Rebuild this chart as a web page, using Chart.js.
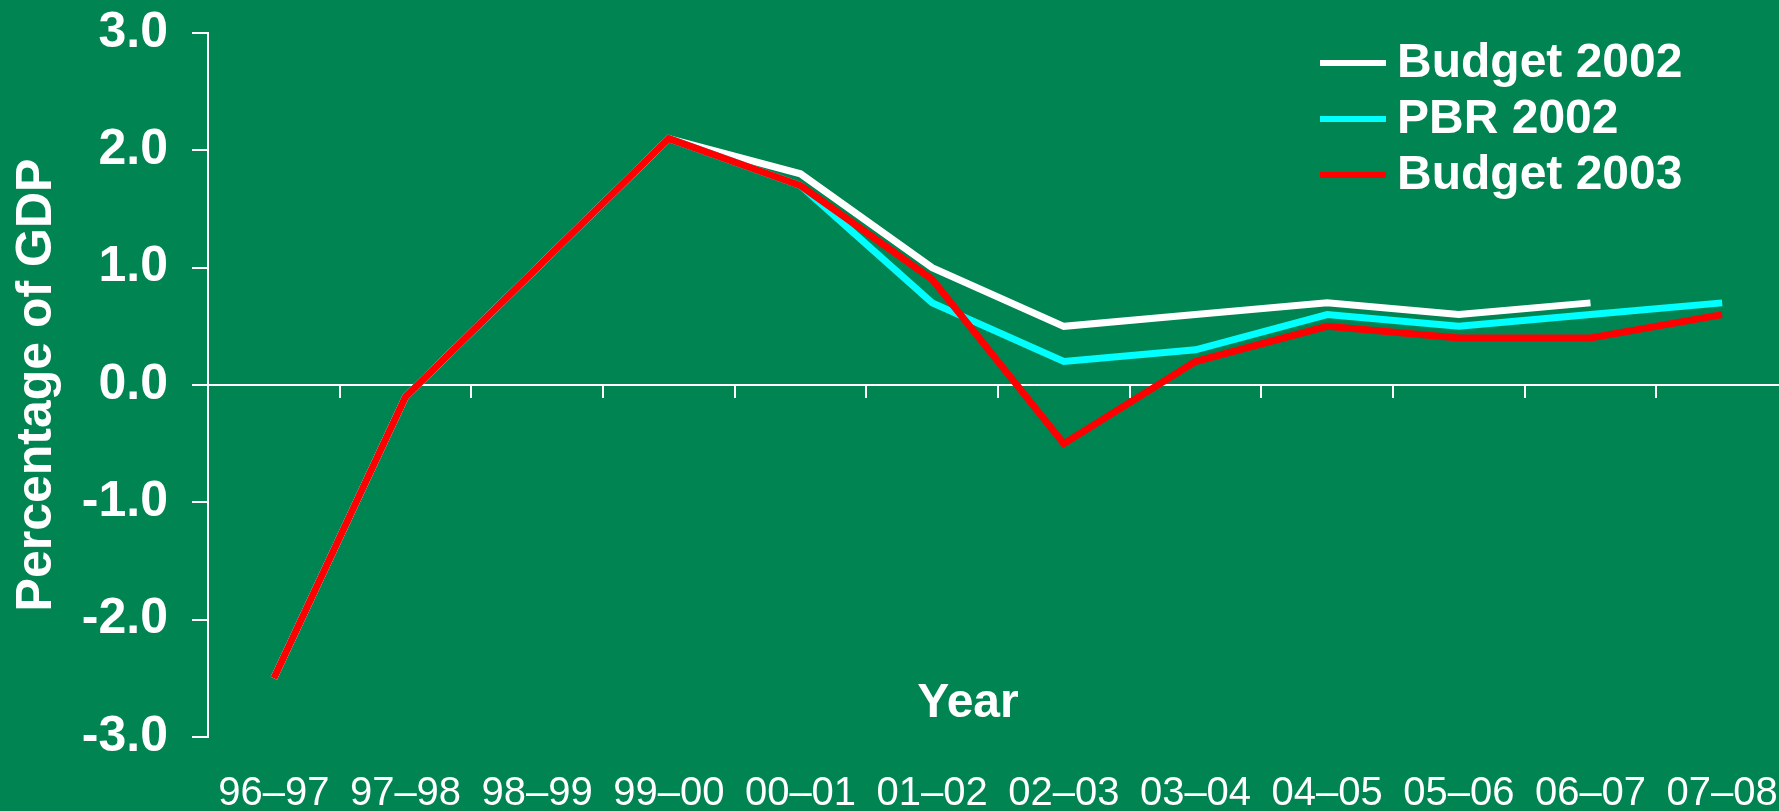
<!DOCTYPE html>
<html>
<head>
<meta charset="utf-8">
<script src="https://cdn.jsdelivr.net/npm/chart.js@4.4.1/dist/chart.umd.min.js"></script>
<style>
  html, body { margin: 0; padding: 0; background: #008452; overflow: hidden; }
  #wrap { position: relative; width: 1788px; height: 811px; }
</style>
</head>
<body>
<div id="wrap"><canvas id="chart"></canvas></div>
<script>
// Fiscal years on the category axis
const years = ['96\u201397', '97\u201398', '98\u201399', '99\u201300', '00\u201301', '01\u201302',
               '02\u201303', '03\u201304', '04\u201305', '05\u201306', '06\u201307', '07\u201308'];

// Percentage of GDP, by forecast vintage
const budget2002 = [-2.5, -0.1, 1.0, 2.1, 1.8, 1.0, 0.5, 0.6, 0.7, 0.6, 0.7, null];
const pbr2002    = [-2.5, -0.1, 1.0, 2.1, 1.7, 0.7, 0.2, 0.3, 0.6, 0.5, 0.6, 0.7];
const budget2003 = [-2.5, -0.1, 1.0, 2.1, 1.7, 0.9, -0.5, 0.2, 0.5, 0.4, 0.4, 0.6];

const yTicks = [-3, -2, -1, 0, 1, 2, 3];

const FONT = "'Liberation Sans', Arial, sans-serif";
const WHITE = '#ffffff';

// Fixed axis box sizes so the plot area lands where intended
const Y_AXIS_WIDTH = 208;
const X_AXIS_HEIGHT = 74;

// Legend block and the "Year" caption drawn on top of the plot
const overlay = {
  id: 'overlay',
  afterDraw(chart) {
    const ctx = chart.ctx;
    ctx.save();
    ctx.font = `bold 48px ${FONT}`;
    ctx.textAlign = 'left';
    ctx.textBaseline = 'middle';
    const rows = [63, 119, 175];
    chart.data.datasets.forEach((ds, i) => {
      const y = rows[i];
      ctx.fillStyle = ds.borderColor;
      ctx.fillRect(1320, y - 3, 66, 6);
      ctx.fillStyle = WHITE;
      ctx.fillText(ds.label, 1397, y + 1);
    });
    ctx.font = `bold 48px ${FONT}`;
    ctx.textAlign = 'center';
    ctx.textBaseline = 'alphabetic';
    const a = chart.chartArea;
    ctx.fillText('Year', a.left + (a.right - a.left) * 0.481, 717);
    ctx.restore();
  }
};

new Chart(document.getElementById('chart'), {
  type: 'line',
  data: {
    labels: years,
    datasets: [
      { label: 'Budget 2002', data: budget2002, borderColor: WHITE, backgroundColor: WHITE, order: 3 },
      { label: 'PBR 2002', data: pbr2002, borderColor: '#00ffff', backgroundColor: '#00ffff', order: 2 },
      { label: 'Budget 2003', data: budget2003, borderColor: '#ff0000', backgroundColor: '#ff0000', order: 1 }
    ]
  },
  options: {
    responsive: true,
    maintainAspectRatio: false,
    animation: false,
    layout: { autoPadding: false, padding: { top: 33, left: 0, right: 0, bottom: 0 } },
    elements: {
      line: { borderWidth: 7, tension: 0, borderCapStyle: 'butt', borderJoinStyle: 'miter', fill: false },
      point: { radius: 0, hoverRadius: 0 }
    },
    plugins: {
      legend: { display: false },
      tooltip: { enabled: false }
    },
    scales: {
      x: {
        type: 'category',
        position: 'bottom',
        offset: true,
        grid: { display: false, drawTicks: false },
        border: { display: false },
        ticks: {
          color: WHITE,
          padding: 40,
          maxRotation: 0,
          autoSkip: false,
          font: { family: FONT, size: 40, lineHeight: 0.85 }
        },
        afterFit(s) {
          s.height = X_AXIS_HEIGHT;
          s.paddingLeft = 0; s.paddingRight = 0; s.paddingTop = 0; s.paddingBottom = 0;
        }
      },
      x2: {
        type: 'category',
        axis: 'x',
        labels: years,
        position: { y: 0 },
        offset: true,
        grid: { display: true, offset: true, drawOnChartArea: false, drawTicks: true, tickLength: 12, color: WHITE, lineWidth: 2 },
        border: { display: true, color: WHITE, width: 2 },
        ticks: { display: false },
        afterFit(s) {
          s.paddingLeft = 0; s.paddingRight = 0; s.paddingTop = 0; s.paddingBottom = 0;
        }
      },
      y: {
        position: 'left',
        min: -3,
        max: 3,
        afterBuildTicks(scale) { scale.ticks = yTicks.map(v => ({ value: v })); },
        grid: { drawOnChartArea: false, drawTicks: true, tickLength: 16, color: WHITE, lineWidth: 2 },
        border: { display: true, color: WHITE, width: 2 },
        ticks: {
          color: WHITE,
          padding: 24,
          font: { family: FONT, size: 50, weight: 'bold' },
          callback: v => v.toFixed(1)
        },
        title: {
          display: true,
          text: 'Percentage of GDP',
          color: WHITE,
          padding: { top: 7, bottom: 15 },
          font: { family: FONT, size: 50, weight: 'bold', lineHeight: 1.2 }
        },
        afterFit(s) {
          s.width = Y_AXIS_WIDTH;
          s.paddingLeft = 0; s.paddingRight = 0; s.paddingTop = 0; s.paddingBottom = 0;
        }
      }
    }
  },
  plugins: [overlay]
});
</script>
</body>
</html>
